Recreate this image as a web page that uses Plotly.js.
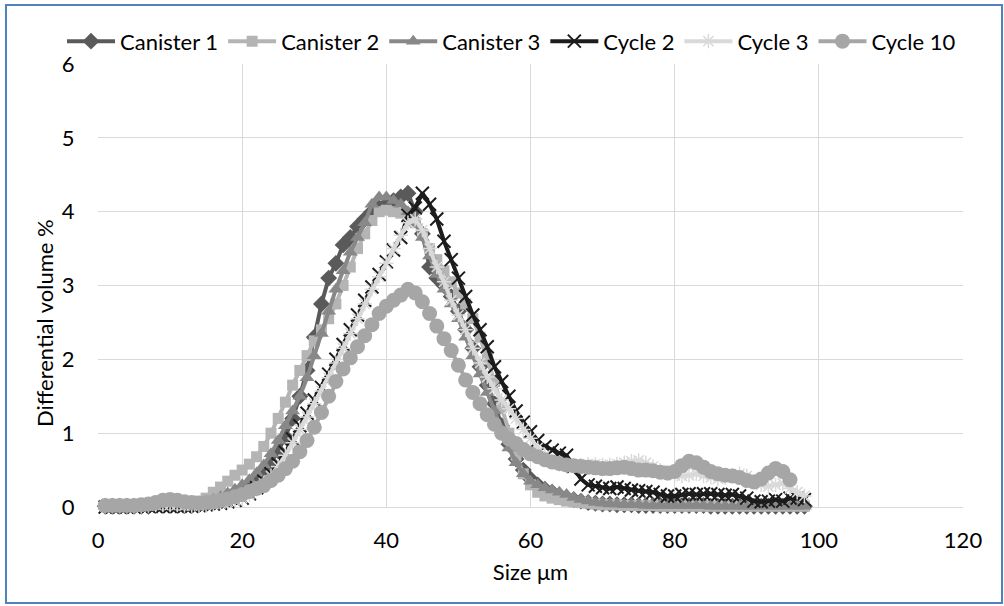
<!DOCTYPE html>
<html>
<head>
<meta charset="utf-8">
<script src="https://cdn.plot.ly/plotly-3.0.1.min.js"></script>
<style>
html,body{margin:0;padding:0;background:#fff;}
#chart{width:1004px;height:606px;}
</style>
</head>
<body>
<div id="chart"></div>
<script>
// Particle size (µm)
const sizeUm = [1,2,3,4,5,6,7,8,9,10,11,12,13,14,15,16,17,18,19,20,21,22,23,24,25,26,27,28,29,30,31,32,33,34,35,36,37,38,39,40,41,42,43,44,45,46,47,48,49,50,51,52,53,54,55,56,57,58,59,60,61,62,63,64,65,66,67,68,69,70,71,72,73,74,75,76,77,78,79,80,81,82,83,84,85,86,87,88,89,90,91,92,93,94,95,96,97,98];

const canister1 = [0.01,0.01,0.01,0.01,0.01,0.01,0.01,0.02,0.02,0.02,
  0.02,0.02,0.02,0.03,0.04,0.06,0.08,0.11,0.15,0.2,
  0.27,0.36,0.47,0.6,0.76,0.95,1.2,1.5,1.85,2.3,
  2.75,3.1,3.3,3.55,3.65,3.8,3.9,4.0,4.05,4.1,
  4.15,4.2,4.25,4.0,3.7,3.25,3.1,3.0,2.85,2.65,
  2.4,2.15,1.9,1.65,1.4,1.1,0.85,0.65,0.5,0.38,
  0.3,0.24,0.2,0.16,0.13,0.1,0.08,0.06,0.05,0.04,
  0.04,0.03,0.03,0.03,0.02,0.02,0.02,0.02,0.02,0.02,
  0.02,0.02,0.02,0.02,0.01,0.01,0.01,0.01,0.01,0.01,
  0.01,0.01,0.01,0.01,0.01,0.01,0.01,0.01];

const canister2 = [0.01,0.01,0.01,0.01,0.01,0.01,0.01,0.02,0.02,0.02,
  0.02,0.03,0.05,0.08,0.12,0.2,0.27,0.35,0.43,0.5,
  0.58,0.68,0.82,1.0,1.2,1.42,1.65,1.85,2.05,2.25,
  2.4,2.55,2.75,3.0,3.25,3.5,3.7,3.88,4.0,4.02,
  4.0,3.98,3.95,3.85,3.7,3.5,3.35,3.2,3.05,2.9,
  2.75,2.55,2.3,2.0,1.7,1.35,1.0,0.7,0.45,0.3,
  0.2,0.15,0.12,0.1,0.08,0.07,0.06,0.05,0.04,0.03,
  0.03,0.03,0.02,0.02,0.02,0.02,0.02,0.01,0.01,0.01,
  0.01,0.01,0.01,0.01,0.01,0.01,0.01,0.01,0.01,0.01,
  0.01,0.01,0.01,0.01,0.01,0.01,0.01,0.01];

const canister3 = [0.01,0.01,0.01,0.01,0.01,0.01,0.01,0.01,0.01,0.01,
  0.02,0.02,0.03,0.05,0.07,0.1,0.14,0.19,0.24,0.3,
  0.37,0.46,0.57,0.72,0.9,1.1,1.3,1.5,1.75,2.05,
  2.35,2.65,2.95,3.2,3.45,3.65,3.85,4.1,4.2,4.2,
  4.15,4.1,4.0,3.85,3.65,3.4,3.15,2.95,2.75,2.55,
  2.3,2.05,1.8,1.55,1.3,1.05,0.8,0.6,0.45,0.35,
  0.3,0.26,0.23,0.2,0.17,0.13,0.1,0.08,0.06,0.05,
  0.04,0.04,0.03,0.03,0.03,0.02,0.02,0.02,0.02,0.02,
  0.02,0.02,0.02,0.02,0.01,0.01,0.01,0.01,0.01,0.01,
  0.01,0.01,0.01,0.01,0.01,0.01,0.01,0.01];

const cycle2 = [0.0,0.0,0.0,0.0,0.0,0.01,0.01,0.01,0.01,0.01,
  0.01,0.01,0.01,0.02,0.03,0.04,0.05,0.07,0.09,0.12,
  0.18,0.26,0.35,0.45,0.58,0.74,0.92,1.1,1.27,1.45,
  1.62,1.8,2.0,2.2,2.4,2.6,2.8,2.98,3.15,3.32,
  3.48,3.65,3.95,4.05,4.25,4.1,3.9,3.6,3.35,3.1,
  2.85,2.6,2.4,2.17,1.9,1.7,1.5,1.3,1.15,1.02,
  0.9,0.82,0.77,0.73,0.7,0.55,0.38,0.3,0.28,0.26,
  0.25,0.27,0.25,0.23,0.22,0.21,0.2,0.17,0.15,0.15,
  0.17,0.18,0.17,0.18,0.18,0.17,0.16,0.17,0.15,0.12,
  0.08,0.07,0.08,0.1,0.08,0.12,0.12,0.1];

const cycle3 = [0.01,0.01,0.01,0.01,0.01,0.01,0.02,0.03,0.03,0.03,
  0.03,0.02,0.02,0.02,0.03,0.04,0.05,0.07,0.09,0.12,
  0.17,0.24,0.32,0.42,0.55,0.7,0.87,1.05,1.22,1.4,
  1.57,1.75,1.95,2.15,2.35,2.55,2.75,2.95,3.12,3.3,
  3.5,3.68,3.85,3.9,3.75,3.5,3.25,3.05,2.8,2.6,
  2.4,2.15,1.95,1.76,1.6,1.45,1.33,1.2,1.05,0.93,
  0.8,0.7,0.62,0.58,0.55,0.56,0.57,0.58,0.58,0.57,
  0.57,0.58,0.6,0.62,0.63,0.6,0.55,0.5,0.45,0.43,
  0.42,0.43,0.45,0.42,0.4,0.38,0.4,0.43,0.45,0.42,
  0.35,0.3,0.28,0.3,0.32,0.25,0.2,0.15];

const cycle10 = [0.02,0.02,0.02,0.02,0.02,0.03,0.04,0.06,0.09,0.1,
  0.09,0.07,0.06,0.05,0.06,0.07,0.09,0.11,0.14,0.17,
  0.21,0.25,0.29,0.36,0.43,0.52,0.62,0.75,0.9,1.08,
  1.28,1.5,1.7,1.87,2.02,2.17,2.32,2.47,2.62,2.72,
  2.8,2.87,2.95,2.9,2.78,2.62,2.45,2.28,2.12,1.92,
  1.72,1.55,1.4,1.25,1.12,1.0,0.92,0.86,0.78,0.72,
  0.68,0.64,0.61,0.59,0.57,0.56,0.55,0.54,0.53,0.52,
  0.52,0.53,0.54,0.52,0.5,0.5,0.49,0.47,0.46,0.48,
  0.56,0.62,0.6,0.54,0.48,0.45,0.43,0.42,0.4,0.36,
  0.34,0.38,0.46,0.52,0.48,0.37,null,null];

const seriesNames = ['Canister 1','Canister 2','Canister 3','Cycle 2','Cycle 3','Cycle 10'];
const xTicks = [0,20,40,60,80,100,120];
const yTicks = [0,1,2,3,4,5,6];
const xTitle = 'Size μm';
const yTitle = 'Differential volume %';

const FONT = 'Lato, "Open Sans", sans-serif';
const TXT = {family: FONT, size: 22, color: '#000000'};

function tr(name, y, color, symbol, size, openLine) {
  const m = {symbol: symbol, size: size, color: color};
  if (openLine) m.line = {color: color, width: openLine};
  else m.line = {width: 0};
  return {
    x: sizeUm, y: y, name: name, type: 'scatter', mode: 'lines+markers',
    line: {color: color, width: 4},
    marker: m, cliponaxis: false, connectgaps: false
  };
}

const data = [
  tr(seriesNames[0], canister1, '#5a5a5a', 'diamond', 13),
  tr(seriesNames[1], canister2, '#b4b4b4', 'square', 11),
  tr(seriesNames[2], canister3, '#888888', 'triangle-up', 13),
  tr(seriesNames[3], cycle2, '#1c1c1c', 'x-thin-open', 13, 2),
  tr(seriesNames[4], cycle3, '#d9d9d9', 'asterisk-open', 12, 1.5),
  tr(seriesNames[5], cycle10, '#a6a6a6', 'circle', 15)
];

const layout = {
  width: 1004, height: 606,
  margin: {l: 98, r: 41, t: 64, b: 99},
  paper_bgcolor: '#ffffff', plot_bgcolor: '#ffffff',
  font: TXT,
  showlegend: true,
  legend: {
    orientation: 'h', x: -0.0416, xanchor: 'left', y: 1.0985, yanchor: 'top',
    font: TXT, itemwidth: 48, tracegroupgap: 0, bgcolor: 'rgba(0,0,0,0)'
  },
  xaxis: {
    range: [0, 120], tickvals: xTicks, ticktext: xTicks.map(String),
    showgrid: true, gridcolor: '#d9d9d9', gridwidth: 1,
    zeroline: false, showline: false,
    ticks: 'outside', ticklen: 14, tickcolor: 'rgba(0,0,0,0)',
    tickfont: TXT,
    title: {text: xTitle, font: TXT, standoff: 12},
    automargin: false, fixedrange: true
  },
  yaxis: {
    range: [0, 6], tickvals: yTicks, ticktext: yTicks.map(String),
    showgrid: true, gridcolor: '#d9d9d9', gridwidth: 1,
    zeroline: true, zerolinecolor: '#d9d9d9', zerolinewidth: 1, showline: false,
    ticks: 'outside', ticklen: 18, tickcolor: 'rgba(0,0,0,0)',
    tickfont: TXT,
    automargin: false, fixedrange: true
  },
  annotations: [{
    text: yTitle, textangle: -90, font: TXT, showarrow: false,
    xref: 'paper', yref: 'paper',
    x: (44 - 98) / 865, y: (507 - 323) / 443, xanchor: 'center', yanchor: 'middle'
  }],
  shapes: [{
    type: 'rect', xref: 'paper', yref: 'paper',
    x0: -0.1064, x1: 1.0451, y0: -0.2167, y1: 1.1332,
    line: {color: '#4f81bd', width: 2}, fillcolor: 'rgba(0,0,0,0)', layer: 'below'
  }]
};

Plotly.newPlot('chart', data, layout, {staticPlot: true, displayModeBar: false});
</script>
</body>
</html>
